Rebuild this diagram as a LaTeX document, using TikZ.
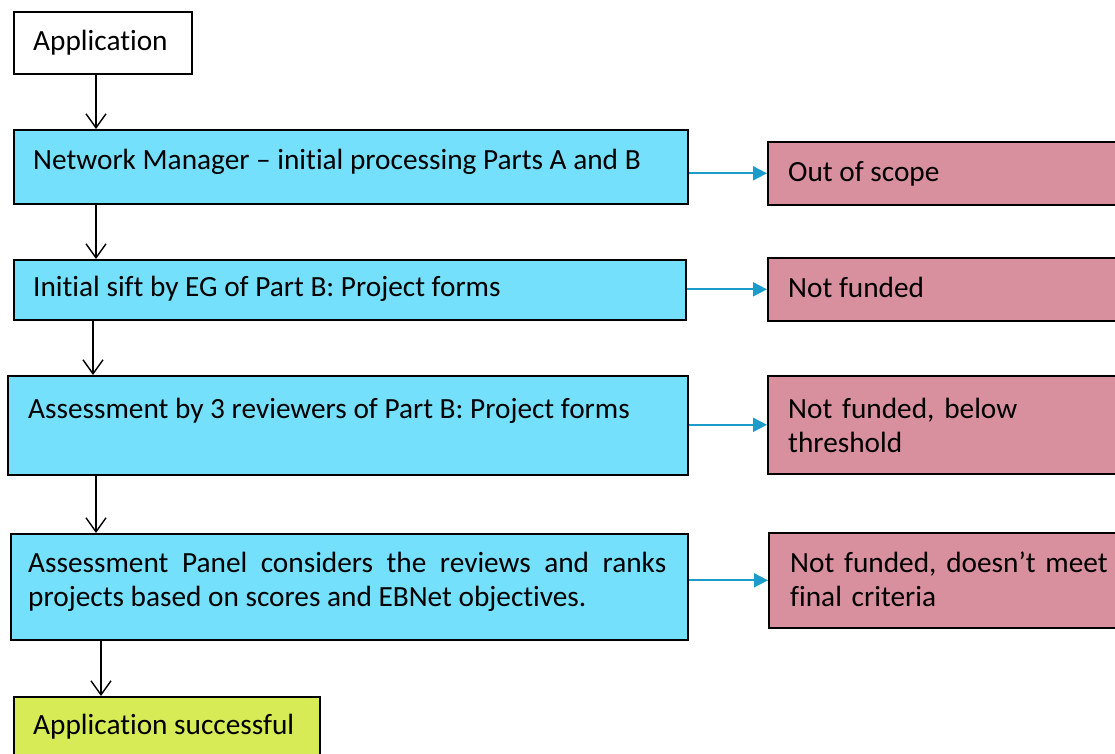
\documentclass[tikz,border=0pt]{standalone}
\usepackage{fontspec}
\setmainfont{Carlito}[Ligatures=NoCommon]
\usetikzlibrary{arrows.meta}
\definecolor{cyanbox}{HTML}{75E0FC}
\definecolor{pinkbox}{HTML}{D9909E}
\definecolor{greenbox}{HTML}{D7EB57}
\definecolor{bluearrow}{HTML}{1B9CC9}
\tikzset{
  box/.style={draw=black, line width=1.6pt, rectangle, anchor=north west, inner sep=0pt},
  cbox/.style={box, fill=cyanbox},
  pbox/.style={box, fill=pinkbox},
  gbox/.style={box, fill=greenbox},
  wbox/.style={box, fill=white},
  txt/.style={anchor=base west, inner sep=0pt, font=\fontsize{29.3}{34}\selectfont},
  blk/.style={draw=black, line width=1.4pt, -{Straight Barb[length=14pt,width=20pt,line width=1.4pt]}},
  blu/.style={draw=bluearrow, line width=1.8pt, -{Triangle[length=14pt,width=14pt]}},
}
\begin{document}
\begin{tikzpicture}[x=1pt,y=-1pt]
\useasboundingbox (0,0) rectangle (1115,753);
\clip (0,0) rectangle (1115,753);
% boxes
\node[wbox, minimum width=178, minimum height=62] (app) at (13,11) {};
\node[cbox, minimum width=674, minimum height=74] (nm) at (13,129) {};
\node[pbox, minimum width=360, minimum height=63] (oos) at (767,141) {};
\node[cbox, minimum width=672, minimum height=60] (sift) at (13,259) {};
\node[pbox, minimum width=360, minimum height=63] (nf) at (767,257) {};
\node[cbox, minimum width=680, minimum height=99] (a3) at (7,375) {};
\node[pbox, minimum width=360, minimum height=98] (nfb) at (767,375) {};
\node[cbox, minimum width=677, minimum height=106] (panel) at (10,533) {};
\node[pbox, minimum width=360, minimum height=95] (nfd) at (768,532) {};
\node[gbox, minimum width=306, minimum height=70] (succ) at (13,696) {};
% texts
\node[txt] (tapp) at (33,50) {Application};
\node[txt] (tnm) at (33,169) {Network Manager – initial processing Parts A and B};
\node[txt] (toos) at (788,181) {Out of scope};
\node[txt] (tsift) at (33,296) {Initial sift by EG of Part B: Project forms};
\node[txt] (tnf) at (788,297) {Not funded};
\node[txt] (ta3) at (28,418) {Assessment by 3 reviewers of Part B: Project forms};
\node[txt, text width=320, align=left] (tnfb) at (788,418) {Not funded, below\\threshold};
\node[txt, text width=638, align=justify] (tpanel) at (28,572) {Assessment Panel considers the reviews and ranks projects based on scores and EBNet objectives.};
\node[txt, text width=320, align=left] (tnfd) at (790,572) {Not funded, doesn’t meet\\final criteria};
\node[txt] (tsucc) at (33,734) {Application successful};
% black arrows
\draw[blk] (app.south -| 96,0) -- (nm.north -| 96,0);
\draw[blk] (nm.south -| 96,0) -- (sift.north -| 96,0);
\draw[blk] (sift.south -| 93,0) -- (a3.north -| 93,0);
\draw[blk] (a3.south -| 96,0) -- (panel.north -| 96,0);
\draw[blk] (panel.south -| 101,0) -- (succ.north -| 101,0);
% blue arrows
\draw[blu] (nm.east |- oos.west) -- (oos.west);
\draw[blu] (sift.east |- nf.west) -- (nf.west);
\draw[blu] (a3.east |- nfb.west) -- (nfb.west);
\draw[blu] (panel.east |- nfd.west) -- (nfd.west);
\end{tikzpicture}
\end{document}
